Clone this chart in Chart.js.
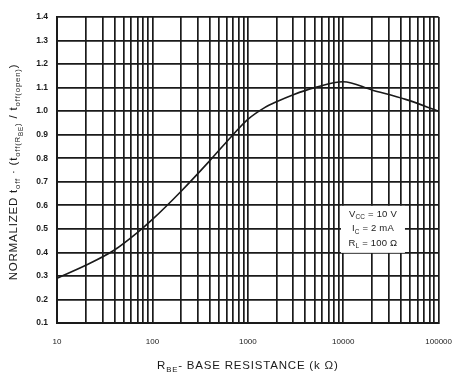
<!DOCTYPE html>
<html>
<head>
<meta charset="utf-8">
<script src="https://cdn.jsdelivr.net/npm/chart.js@4"></script>
<style>
  body { margin: 0; background: #fff; }
  #wrap { width: 466px; height: 374px; }
</style>
</head>
<body>
<div id="wrap"><canvas id="toffChart" width="466" height="374"></canvas></div>
<script>
// R_BE in kOhm, normalized toff
const rbe = [10, 20, 40, 70, 100, 200, 400, 700, 1000, 1500, 2000, 3000, 5000, 10000, 20000, 45000, 100000];
const toff = [0.29, 0.345, 0.41, 0.485, 0.54, 0.66, 0.79, 0.90, 0.965, 1.015, 1.04, 1.07, 1.10, 1.125, 1.09, 1.05, 1.0];

const decades = [10, 100, 1000, 10000];
const mults = [1, 2, 3, 4, 5, 6, 7, 8, 9];
const xLabels = [10, 100, 1000, 10000, 100000];
const yTicks = [0.1, 0.2, 0.3, 0.4, 0.5, 0.6, 0.7, 0.8, 0.9, 1.0, 1.1, 1.2, 1.3, 1.4];

const noteLines = [
  [["V", 0], ["CC", 1], [" = 10 V", 0]],
  [["I", 0], ["C", 1], [" = 2 mA", 0]],
  [["R", 0], ["L", 1], [" = 100 Ω", 0]]
];
const noteAt = { x: 20000, y: 0.5 };

const xTitle = [["R", 0], ["BE", 1], ["- BASE RESISTANCE (k Ω)", 0]];
const yTitle = [["NORMALIZED t", 0], ["off", 1], [" · (t", 0], ["off(R", 1], ["BE", 2], [")", 1],
                [" / t", 0], ["off(open)", 1], [")", 0]];

const ink = "#1a1a1a";
const fam = "'Liberation Sans', Arial, sans-serif";

function drawRich(c, parts, x, y, size, align, spacing) {
  const sz = lv => lv ? size * (lv == 1 ? 0.68 : 0.55) : size;
  c.letterSpacing = (spacing || 0) + "px";
  let total = 0;
  parts.forEach(p => {
    c.font = sz(p[1]) + "px " + fam;
    total += c.measureText(p[0]).width;
  });
  let cx = align === "center" ? x - total / 2 : x;
  parts.forEach(p => {
    c.font = sz(p[1]) + "px " + fam;
    c.textAlign = "left";
    c.textBaseline = "alphabetic";
    c.fillText(p[0], cx, y + p[1] * size * 0.25);
    cx += c.measureText(p[0]).width;
  });
  c.letterSpacing = "0px";
}

const extras = {
  id: "extras",
  afterDatasetsDraw(chart) {
    const c = chart.ctx;
    const xs = chart.scales.x, ys = chart.scales.y;
    const px = xs.getPixelForValue(noteAt.x), py = ys.getPixelForValue(noteAt.y);
    c.save();
    c.fillStyle = "#fff";
    c.fillRect(px - 31, py - 23, 64, 47);
    c.fillStyle = ink;
    noteLines.forEach((ln, i) => drawRich(c, ln, px + 1, py - 12 + i * 14.5, 9.5, "center", 0.2));
    c.restore();
  },
  afterDraw(chart) {
    const c = chart.ctx;
    const a = chart.chartArea;
    c.save();
    c.fillStyle = ink;
    drawRich(c, xTitle, (a.left + a.right) / 2, 369, 11.5, "center", 0.8);
    c.translate(17, 172);
    c.rotate(-Math.PI / 2);
    drawRich(c, yTitle, 0, 0, 11.5, "center", 0.8);
    c.restore();
  }
};

new Chart(document.getElementById("toffChart"), {
  type: "line",
  data: {
    datasets: [{
      data: rbe.map((r, i) => ({ x: r, y: toff[i] })),
      borderColor: ink,
      borderWidth: 1.6,
      pointRadius: 0,
      cubicInterpolationMode: "monotone",
      fill: false
    }]
  },
  options: {
    responsive: false,
    animation: false,
    layout: { padding: { top: 17, right: 18, left: 0, bottom: 0 } },
    plugins: { legend: { display: false }, tooltip: { enabled: false } },
    scales: {
      x: {
        type: "logarithmic",
        min: 10,
        max: 100000,
        afterFit(s) { s.height = 51; },
        afterBuildTicks(s) {
          const t = [];
          decades.forEach(d => mults.forEach(m => t.push({ value: d * m })));
          t.push({ value: 100000 });
          s.ticks = t;
        },
        grid: { color: ink, lineWidth: 1.7, drawTicks: false },
        border: { color: ink, width: 2 },
        ticks: {
          autoSkip: false,
          maxRotation: 0,
          padding: 14,
          color: ink,
          font: { family: fam, size: 8 },
          callback: v => xLabels.includes(v) ? String(v) : ""
        }
      },
      y: {
        min: 0.1,
        max: 1.4,
        afterFit(s) { s.width = 57; },
        afterBuildTicks(s) { s.ticks = yTicks.map(v => ({ value: v })); },
        grid: { color: ink, lineWidth: 1.7, drawTicks: false },
        border: { color: ink, width: 2 },
        ticks: {
          padding: 9,
          color: ink,
          font: { family: fam, size: 8.5, weight: "bold" },
          callback: v => v.toFixed(1)
        }
      }
    }
  },
  plugins: [extras]
});
</script>
</body>
</html>
